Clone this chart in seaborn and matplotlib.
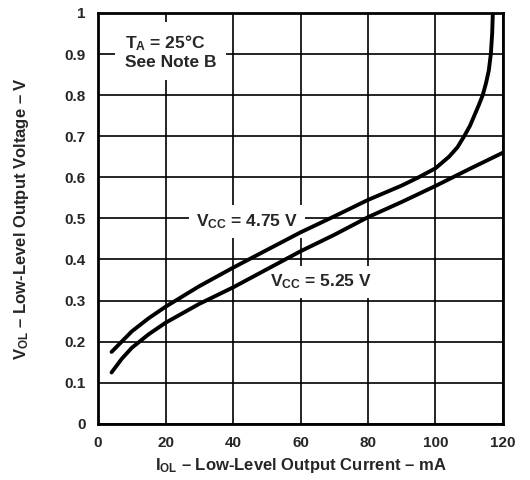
import pandas as pd
import matplotlib
matplotlib.use("Agg")
import matplotlib.pyplot as plt
import seaborn as sns

# Values
iol_475 = [4, 7, 10, 15, 20, 30, 40, 50, 60, 70, 80, 90, 95, 100, 104, 106.5,
           108.5, 110.2, 111.5, 112.8, 114, 115, 115.8, 116.4, 116.8, 117.0]
vol_475 = [0.175, 0.20, 0.225, 0.257, 0.285, 0.335, 0.38, 0.423, 0.466, 0.505, 0.545, 0.58, 0.60, 0.622, 0.65, 0.673,
           0.70, 0.725, 0.75, 0.775, 0.80, 0.83, 0.86, 0.90, 0.95, 1.0]

iol_525 = [4, 7, 10, 15, 20, 30, 40, 50, 60, 70, 80, 90, 100, 110, 120]
vol_525 = [0.125, 0.158, 0.185, 0.218, 0.246, 0.292, 0.332, 0.376, 0.42, 0.46, 0.503, 0.54, 0.579, 0.62, 0.66]

x_ticks = [0, 20, 40, 60, 80, 100, 120]
y_ticks = [0, 0.1, 0.2, 0.3, 0.4, 0.5, 0.6, 0.7, 0.8, 0.9, 1.0]
y_tick_labels = ["0", "0.1", "0.2", "0.3", "0.4", "0.5", "0.6", "0.7", "0.8", "0.9", "1"]

df = pd.concat([
    pd.DataFrame({"IOL": iol_475, "VOL": vol_475, "VCC": "4.75 V"}),
    pd.DataFrame({"IOL": iol_525, "VOL": vol_525, "VCC": "5.25 V"}),
])

sns.set_style("white")
plt.rcParams["font.family"] = ["Liberation Sans", "DejaVu Sans"]
plt.rcParams["font.weight"] = "bold"
plt.rcParams["mathtext.fontset"] = "custom"
plt.rcParams["mathtext.rm"] = "Liberation Sans:bold"
plt.rcParams["mathtext.it"] = "Liberation Sans:bold"
plt.rcParams["mathtext.bf"] = "Liberation Sans:bold"

fig = plt.figure(figsize=(5.3, 4.8), dpi=100)
ax = fig.add_axes([0.185, 0.117, 0.764, 0.856])

sns.lineplot(data=df, x="IOL", y="VOL", units="VCC", estimator=None,
             color="black", linewidth=2.8, ax=ax, sort=False, legend=False)
for ln in ax.lines:
    ln.set_solid_capstyle("round")
    ln.set_solid_joinstyle("round")

ax.set_xlim(0, 120)
ax.set_ylim(0, 1)
ax.set_xticks(x_ticks)
ax.set_yticks(y_ticks)
ax.set_yticklabels(y_tick_labels)
ax.tick_params(length=0, pad=9, labelsize=11)
for lab in ax.get_xticklabels() + ax.get_yticklabels():
    lab.set_fontweight("bold")

ax.grid(True, color="black", linewidth=1.2)
ax.set_axisbelow(True)
for sp in ax.spines.values():
    sp.set_color("black")
    sp.set_linewidth(2)

ax.set_xlabel(r"$\mathrm{I_{OL}}$ – Low-Level Output Current – mA",
              fontsize=12, fontweight="bold", labelpad=4)
ax.set_ylabel(r"$\mathrm{V_{OL}}$ – Low-Level Output Voltage – V",
              fontsize=12, fontweight="bold", labelpad=24)

box = dict(facecolor="white", edgecolor="none", pad=5)
ax.text(8, 0.905, "$\\mathrm{T_A}$ = 25°C\nSee Note B", fontsize=12.5,
        fontweight="bold", va="center", ha="left", linespacing=1.15,
        zorder=1, bbox=dict(facecolor="white", edgecolor="none", pad=7))
ax.text(29, 0.493, r"$\mathrm{V_{CC}}$ = 4.75 V", fontsize=12.5,
        fontweight="bold", va="center", ha="left", zorder=1, bbox=box)
ax.text(51, 0.345, r"$\mathrm{V_{CC}}$ = 5.25 V", fontsize=12.5,
        fontweight="bold", va="center", ha="left", zorder=1, bbox=box)

fig.savefig("out.png", dpi=100)
